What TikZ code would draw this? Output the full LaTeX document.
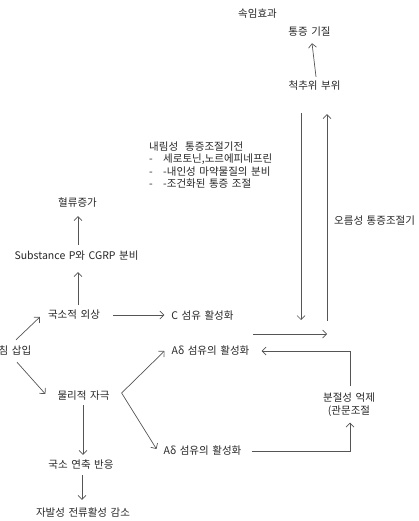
\documentclass[tikz,border=0pt]{standalone}
\usepackage{fontspec}
\setmainfont{Noto Sans CJK KR}[WordSpace=1.5]
\usetikzlibrary{arrows.meta}
\definecolor{inkgray}{HTML}{262626}
\definecolor{wiregray}{HTML}{555555}

\begin{document}
\begin{tikzpicture}[x=1pt, y=-1pt,
    txt/.style={inner sep=0pt, text=inkgray, text height=8pt, text depth=2pt,
        font=\fontsize{10.5}{12.5}\selectfont},
    blocktxt/.style={inner sep=0pt, text=inkgray, font=\fontsize{10.5}{12.5}\selectfont},
    arr/.style={draw=wiregray, line width=0.7pt, -{Straight Barb[length=4pt,width=8pt]}}]
    \useasboundingbox (0,0) rectangle (418,521);

    % Text positions (pixel grid, y running down)
    \node[txt] (trick)     at (257.5, 15)  {속임효과};
    \node[txt] (substrate) at (309.5, 33)  {통증 기질};
    \node[txt] (spinal)    at (314.5, 87)  {척추위 부위};
    \node[blocktxt, align=left, anchor=north west] (desc) at (149, 141.5)
        {내림성\ \ 통증조절기전\\
         \makebox[14pt][l]{-}세로토닌,노르에피네프린\\
         \makebox[14pt][l]{-}-내인성 마약물질의 분비\\
         \makebox[14pt][l]{-}-조건화된 통증 조절};
    \node[txt, anchor=west] (asc) at (334, 221) {오름성 통증조절기};
    \node[txt] (blood)     at (77.5, 204)  {혈류증가};
    \node[txt] (subp)      at (76.5, 256)  {Substance P와 CGRP 분비};
    \node[txt] (trauma)    at (74, 315.5)  {국소적 외상};
    \node[txt] (cfiber)    at (202.5, 316) {C 섬유 활성화};
    \node[txt] (needle)    at (15, 351)    {침 삽입};
    \node[txt] (phys)      at (83.5, 396)  {물리적 자극};
    \node[txt] (adtop)     at (210.5, 351) {Aδ 섬유의 활성화};
    \node[txt] (adbot)     at (202.5, 451) {Aδ 섬유의 활성화};
    \node[blocktxt, align=center, font=\fontsize{10.5}{13}\selectfont] (seg) at (349, 404.5)
        {분절성 억제\\(관문조절};
    \node[txt] (twitch)    at (81, 465)    {국소 연축 반응};
    \node[txt] (spont)     at (83, 513)    {자발성 전류활성 감소};

    % Free ends of the long pathways
    \coordinate (downend) at (301, 320);
    \coordinate (upstart) at (327, 321);
    \coordinate (fibreout) at (253, 334);
    \coordinate (fibrein)  at (327, 334);

    \draw[arr] ([shift={(1.5,-5)}]spinal.north) -- ([shift={(2.5,5)}]substrate.south);
    \draw[arr] ([shift={(-13.5,21)}]spinal.south) -- (downend);
    \draw[arr] (upstart) -- ([shift={(12.5,22)}]spinal.south);
    \draw[arr] (fibreout) -- (fibrein);

    \draw[arr] ([shift={(1.5,-6)}]subp.north) -- ([shift={(0.5,7)}]blood.south);
    \draw[arr] ([shift={(4,-5.5)}]trauma.north) -- ([shift={(1.5,11)}]subp.south);
    \draw[arr] ([shift={(13,-0.5)}]trauma.east) -- ([shift={(-7,-1)}]cfiber.west);
    \draw[arr] ([shift={(1,-6)}]needle.north) -- ([shift={(-8,1.5)}]trauma.west);
    \draw[arr] ([shift={(2,6)}]needle.south) -- ([shift={(-12,-2)}]phys.west);
    \draw[arr] ([shift={(12,-3)}]phys.east) -- ([shift={(-7,0)}]adtop.west);
    \draw[arr] ([shift={(12,-3)}]phys.east) -- ([shift={(-7,-2)}]adbot.west);
    \draw[arr] ([shift={(-0.5,4)}]phys.south) -- ([shift={(2,-5)}]twitch.north);
    \draw[arr] ([shift={(1,5)}]twitch.south) -- ([shift={(-1,-8)}]spont.north);

    % Gate control loop
    \draw[arr] ([shift={(10,0)}]adbot.east) -| ([shift={(1,6)}]seg.south);
    \draw[arr] ([shift={(1,-6)}]seg.north) |- ([shift={(12,0)}]adtop.east);
\end{tikzpicture}
\end{document}
